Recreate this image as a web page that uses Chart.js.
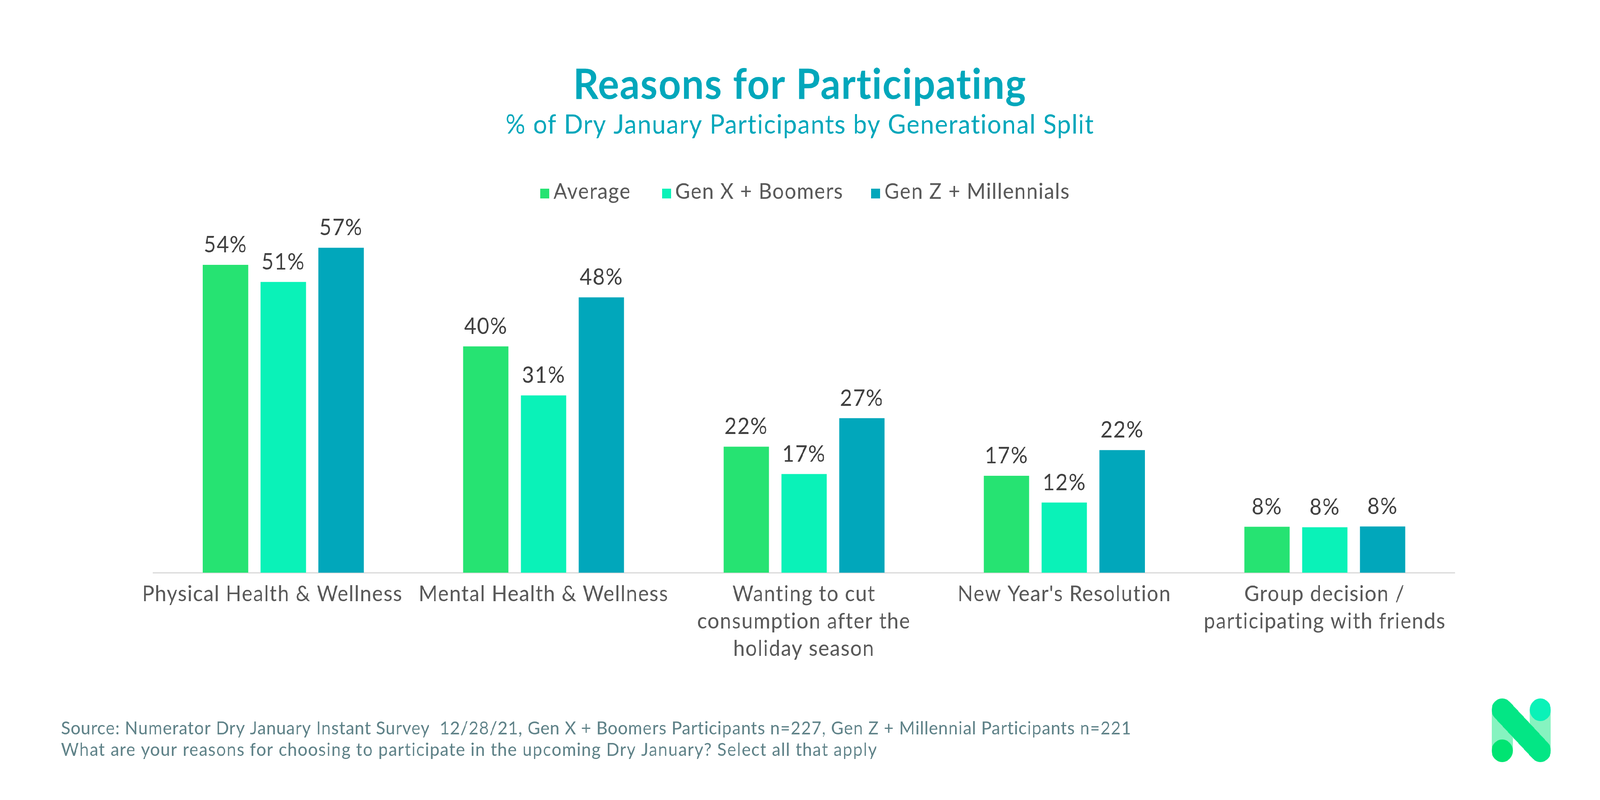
<!DOCTYPE html>
<html><head><meta charset="utf-8">
<style>html,body{margin:0;padding:0;background:#fff;overflow:hidden}#wrap{position:relative;width:4400px;height:2048px;transform-origin:0 0}canvas{display:block}#logo{position:absolute;left:4102px;top:1788px}</style>
<script src="https://cdn.jsdelivr.net/npm/chart.js@4/dist/chart.umd.js"></script>
</head><body><div id="wrap"><canvas id="c" width="4400" height="2048"></canvas>
<svg id="logo" width="163" height="163" viewBox="0 0 163 163"><defs><linearGradient id="g" x1="0" y1="1" x2="1" y2="0"><stop offset="0" stop-color="#00e472"/><stop offset="1" stop-color="#0af2b8"/></linearGradient></defs>
<rect x="0" y="29" width="58" height="105" fill="#86f3c0"/><rect x="105" y="29" width="58" height="105" fill="#86f3c0"/>
<path d="M29 29L134 134" stroke="#03e685" stroke-width="58" stroke-linecap="round"/><circle cx="29" cy="134" r="29" fill="#00e472"/><circle cx="134" cy="29" r="29" fill="#0af2b8"/></svg></div>
<script>
// The layout is authored for 4400 wide; fit it to the real window so nothing is cut off if the window is narrower.
document.getElementById('wrap').style.transform=`scaleX(${Math.min(1,window.innerWidth/4400)})`;
const categories=[["Physical Health & Wellness"],["Mental Health & Wellness"],["Wanting to cut","consumption after the","holiday season"],["New Year's Resolution"],["Group decision /","participating with friends"]];
const average=[54,39.7,22.1,17,8.05];
const genXBoomers=[51,31.1,17.3,12.3,7.96];
const genZMillennials=[57,48.3,27.1,21.5,8.1];
const seriesNames=["Average","Gen X + Boomers","Gen Z + Millennials"];
const seriesColors=["#26e372","#0af2b8","#01a7bb"];
const titleText="Reasons for Participating";
const subtitleText="% of Dry January Participants by Generational Split";
const footerLines=["Source: Numerator Dry January Instant Survey  12/28/21, Gen X + Boomers Participants n=227, Gen Z + Millennial Participants n=221","What are your reasons for choosing to participate in the upcoming Dry January? Select all that apply"];
const FF='Lato';
const extras={id:'extras',
 beforeDraw(ch){
  ch.ctx.letterSpacing='2px';
  const s=ch.scales.x,it=s.getLabelItems();
  if(!it._shifted){it[0].options.translation[0]-=30;it._shifted=true;}
 },
 afterDatasetsDraw(ch){
  const c=ch.ctx;c.save();
  c.textAlign='center';c.textBaseline='alphabetic';c.fillStyle='#404040';c.font=`58px ${FF}`;c.letterSpacing='2px';
  ch.data.datasets.forEach((d,i)=>{ch.getDatasetMeta(i).data.forEach((b,j)=>{c.fillText(Math.round(d.data[j])+'%',b.x,b.y-32);});});
  c.font=`56px ${FF}`;c.letterSpacing='2px';c.textAlign='left';
  const starts=[1486,1821,2396];
  ch.data.datasets.forEach((d,i)=>{c.fillStyle=d.backgroundColor;c.fillRect(starts[i],483,24,25);c.fillStyle='#595959';c.fillText(d.label,starts[i]+36,509);});
  c.font=`47px ${FF}`;c.fillStyle='#5f8288';
  c.letterSpacing='1.3px';c.fillText(footerLines[0],168,1880);
  c.letterSpacing='1.86px';c.fillText(footerLines[1],168,1935);
  c.restore();
 }};
new Chart(document.getElementById('c'),{type:'bar',plugins:[extras],
 data:{labels:categories,datasets:[
  {label:seriesNames[0],data:average,backgroundColor:seriesColors[0]},
  {label:seriesNames[1],data:genXBoomers,backgroundColor:seriesColors[1]},
  {label:seriesNames[2],data:genZMillennials,backgroundColor:seriesColors[2]}]},
 options:{responsive:false,animation:false,devicePixelRatio:1,
  layout:{padding:{left:399,right:399,top:0,bottom:0}},
  datasets:{bar:{categoryPercentage:0.666,barPercentage:0.786}},
  plugins:{legend:{display:false},tooltip:{enabled:false},
   title:{display:true,text:titleText,color:'#01a7bb',font:{family:FF,size:108,weight:'bold',lineHeight:1.2},padding:{top:153,bottom:0}},
   subtitle:{display:true,text:subtitleText,color:'#01a7bb',font:{family:FF,size:68,weight:'normal',lineHeight:1.1},padding:{top:0,bottom:233}}},
  scales:{
   x:{grid:{display:false},border:{color:'#d9d9d9',width:3},
      ticks:{color:'#595959',font:{family:FF,size:56,lineHeight:1.25},padding:12,autoSkip:false,maxRotation:0,minRotation:0},
      afterFit(s){s.height=582;}},
   y:{min:0,max:60,grid:{display:false},border:{display:false},ticks:{display:false},afterFit(s){s.width=22;}}
  }}});
</script></body></html>
